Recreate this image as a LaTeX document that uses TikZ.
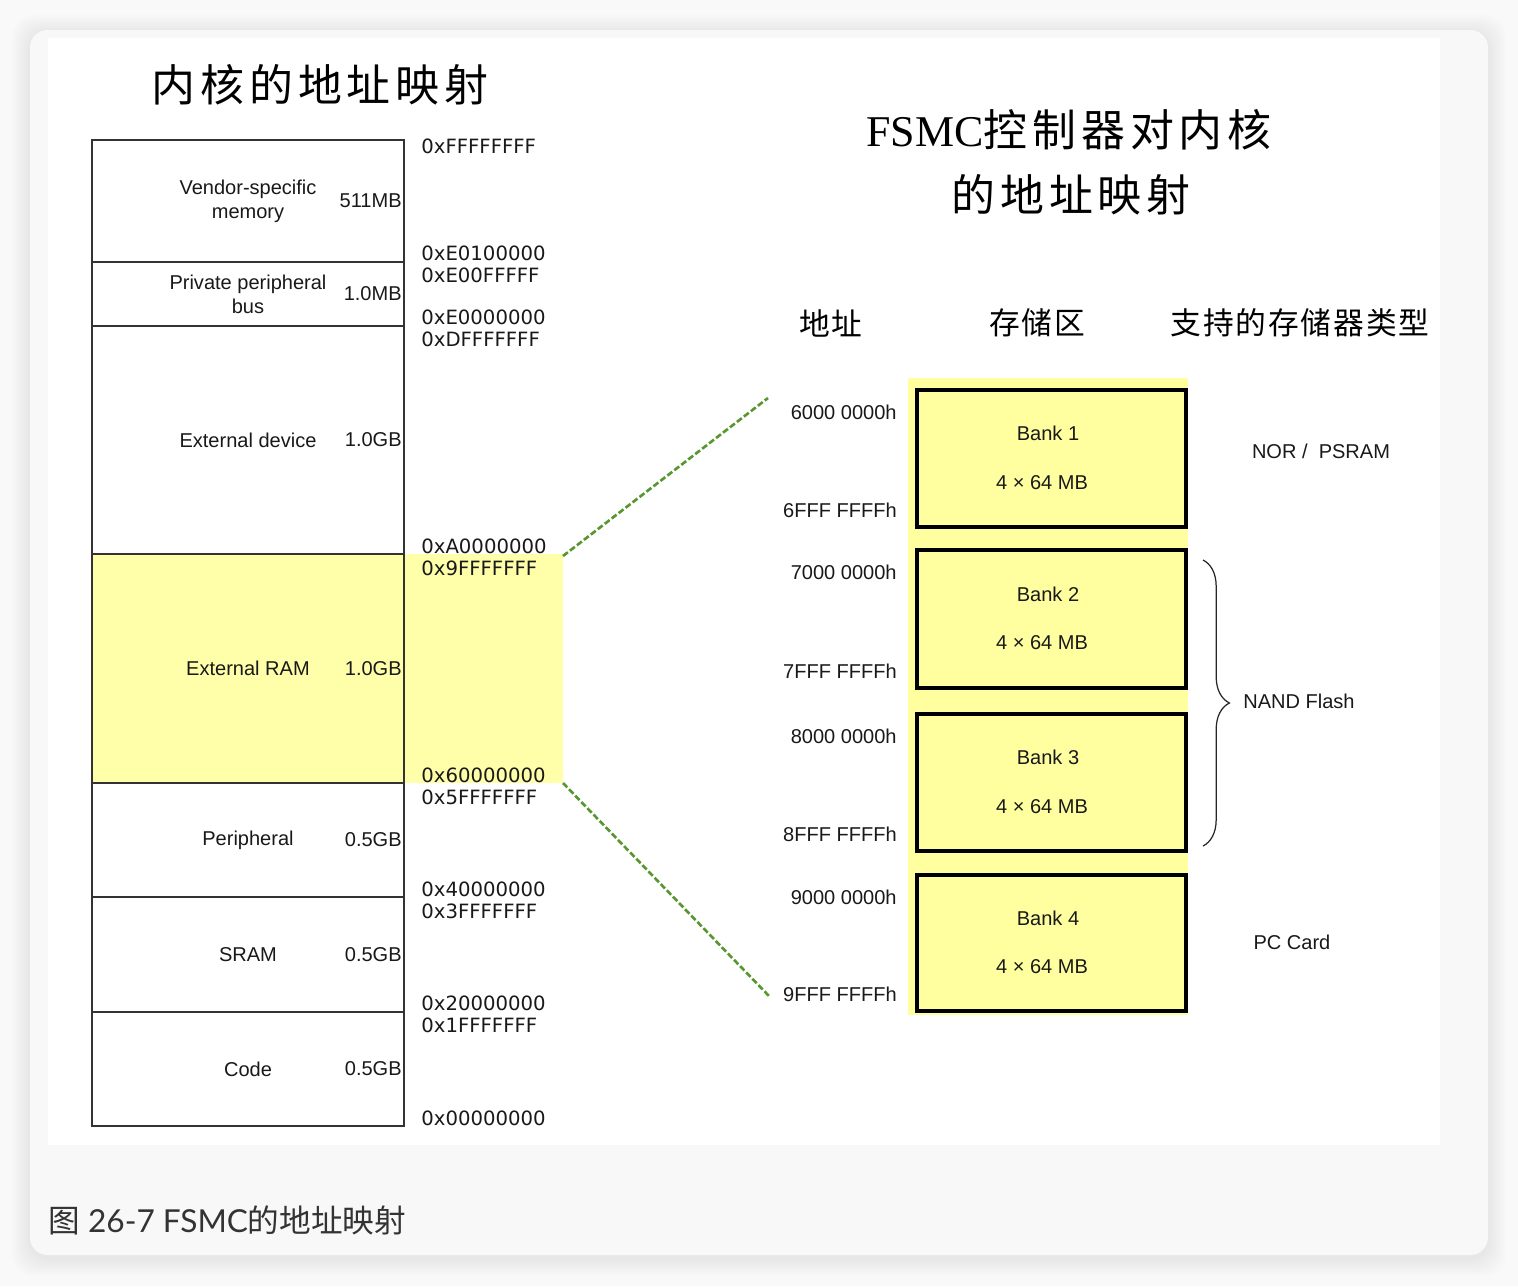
\documentclass[tikz,border=0pt]{standalone}
\usepackage{fontspec}
\setmainfont{Liberation Sans}
\newfontfamily\cjk{Noto Sans CJK SC}
\newfontfamily\cjktitle[LetterSpace=11]{Noto Sans CJK SC}
\newfontfamily\cjkhead[LetterSpace=6]{Noto Sans CJK SC}
\newfontfamily\hexfont{DejaVu Sans}
\newfontfamily\titleserif{Liberation Serif}
\newfontfamily\capfont{Lato}
\usepackage{tikz}
\usetikzlibrary{positioning, decorations.pathreplacing}
\definecolor{RamYellow}{RGB}{255,255,170}
\definecolor{BankYellow}{RGB}{255,255,160}
\definecolor{ZoomGreen}{RGB}{88,150,48}
\definecolor{PageGray}{RGB}{249,249,249}
\definecolor{CardGray}{RGB}{248,248,248}
\tikzset{
  memline/.style={draw=black!80, line width=0.8pt},
  memtxt/.style={font=\fontsize{11.4}{13.7}\selectfont, align=center, inner sep=0pt, text=black!90},
  sizetxt/.style={memtxt, anchor=east},
  hexaddr/.style={font=\hexfont\fontsize{11.2}{13}\selectfont, anchor=west, inner sep=0pt, text=black!90},
  bankbox/.style={draw=black, line width=2pt, fill=BankYellow},
  banktxt/.style={font=\fontsize{11.4}{13.7}\selectfont, inner sep=0pt, text=black!90},
  bankaddr/.style={banktxt, anchor=east},
  typetxt/.style={banktxt},
  zoomline/.style={draw=ZoomGreen, line width=1.5pt, dash pattern=on 3.5pt off 1.5pt},
  nandbrace/.style={draw=black!85, line width=0.7pt, decorate, decoration={brace, amplitude=15pt}},
  bigtitle/.style={font=\cjktitle\fontsize{25}{30}\selectfont, inner sep=0pt},
  colhead/.style={font=\cjkhead\fontsize{17.5}{20}\selectfont, inner sep=0pt},
  figcaption/.style={font=\cjk\fontsize{18}{22}\selectfont, anchor=west, inner sep=0pt, text=black!80},
}

\begin{document}
\begin{tikzpicture}[x=0.02cm, y=-0.02cm]
  \useasboundingbox (0,0) rectangle (1518,1286);
  % page, soft shadow and card
  \fill[PageGray] (0,0) rectangle (1518,1286);
  \foreach \s in {2,4,...,18}
    \fill[black, opacity=0.007, rounded corners=12pt] ({30-\s},{33-\s}) rectangle ({1488+\s},{1258+\s});
  \fill[CardGray, rounded corners=10pt] (30,30) rectangle (1488,1255);
  \fill[white] (48,38) rectangle (1440,1145);

  % left: address map of the core
  \node[bigtitle] (coretitle) at (320,85) {内核的地址映射};
  \fill[RamYellow] (92,554) rectangle (563,783);
  \foreach \top/\bot/\what/\size [count=\i] in {140/262/{Vendor-specific\\memory}/511MB,
      262/326/{Private peripheral\\bus}/1.0MB, 326/554/External device/1.0GB,
      554/783/External RAM/1.0GB, 783/897/Peripheral/0.5GB, 897/1012/SRAM/0.5GB,
      1012/1126/Code/0.5GB} {
    \draw[memline] (92,\top) rectangle (404,\bot);
    \node[memtxt] (mem\i) at (248,{(\top+\bot)/2}) {\what};
    \node[sizetxt] (size\i) at (402,{(\top+\bot)/2}) {\size};
  }
  \foreach \y/\hex in {146/FFFFFFFF, 253/E0100000, 275/E00FFFFF, 317/E0000000, 339/DFFFFFFF,
      546/A0000000, 568/9FFFFFFF, 775/60000000, 797/5FFFFFFF, 889/40000000, 911/3FFFFFFF,
      1003/20000000, 1025/1FFFFFFF, 1118/00000000}
    \node[hexaddr] (hex\hex) at (421,\y) {0x\hex};

  % right: FSMC banks
  \node[bigtitle] (fsmctitle) at (1069,130) {{\titleserif FSMC}控制器对内核};
  \node[bigtitle] (fsmctitlb) at (1071,195) {的地址映射};
  \node[colhead] (hdaddr) at (831,323) {地址};
  \node[colhead] (hdbank) at (1037,323) {存储区};
  \node[colhead] (hdtype) at (1300,323) {支持的存储器类型};
  \fill[BankYellow] (908,378) rectangle (1188,1015);
  \foreach \top/\bot/\lo/\hi [count=\i] in {390/527/6000/6FFF, 550/688/7000/7FFF,
      714/851/8000/8FFF, 875/1011/9000/9FFF} {
    \draw[bankbox] (917,\top) rectangle (1186,\bot);
    \node[banktxt] (bank\i) at (1048,{(\top+\bot)/2-25}) {Bank \i};
    \node[banktxt] (cap\i) at (1042,{(\top+\bot)/2+24}) {4 × 64 MB};
    \node[bankaddr] (lo\i) at (897,{\top+22}) {\lo\ 0000h};
    \node[bankaddr] (hi\i) at (897,{\bot-17}) {\hi\ FFFFh};
  }
  \node[typetxt] (nor) at (1321,451) {NOR /\ \ PSRAM};
  \coordinate (nandtop) at (1203,560);
  \coordinate (nandbot) at (1203,846);
  \draw[nandbrace] (nandtop) -- (nandbot);
  \node[typetxt, anchor=west] (nand) at (1243,701) {NAND Flash};
  \node[typetxt] (pccard) at (1292,942) {PC Card};

  % zoom lines
  \coordinate (ramtop) at (563,556);
  \coordinate (ramlow) at (563,783);
  \coordinate (fsmctop) at (768,398);
  \coordinate (fsmclow) at (770,997);
  \draw[zoomline] (ramtop) -- (fsmctop);
  \draw[zoomline] (ramlow) -- (fsmclow);

  \node[figcaption] (figcap) at (48,1220) {图{\capfont\ 26-7 FSMC}的地址映射};
\end{tikzpicture}
\end{document}
